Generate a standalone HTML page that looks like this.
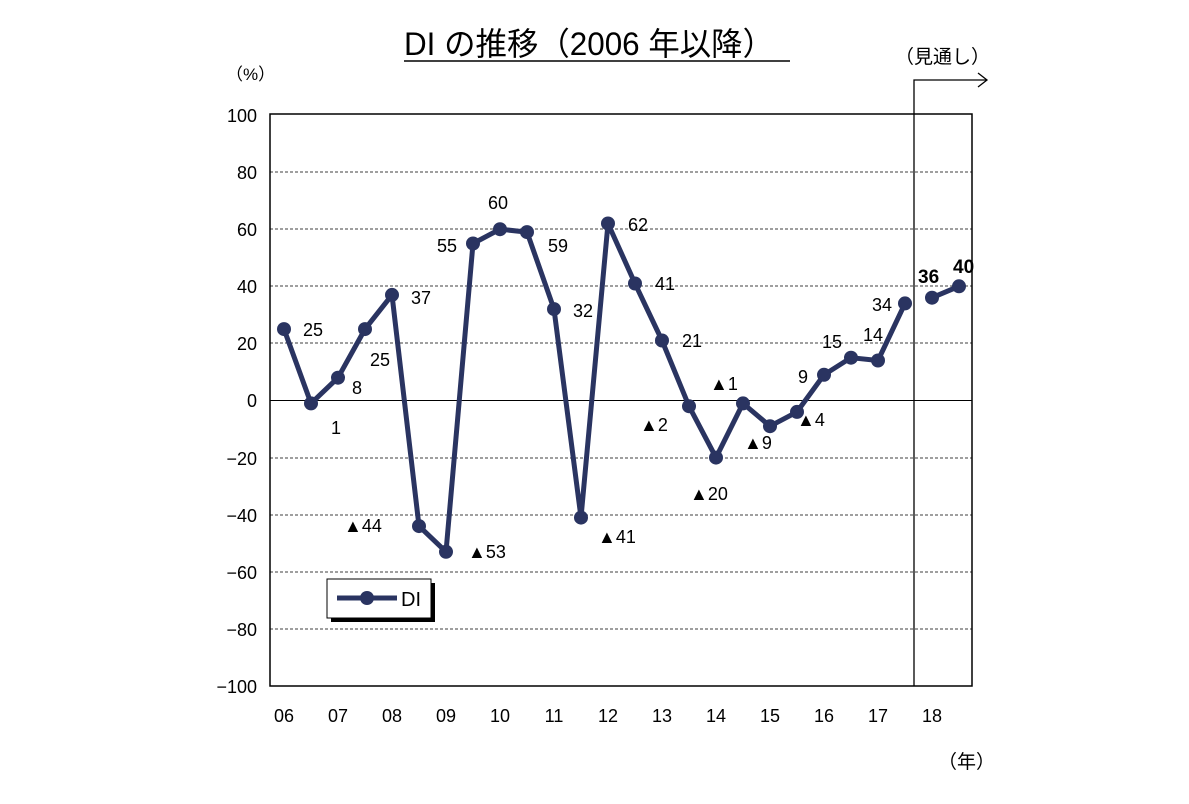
<!DOCTYPE html>
<html><head><meta charset="utf-8"><style>
body{margin:0;background:#fff}
svg text{font-family:"Liberation Sans","Noto Sans CJK JP",sans-serif;fill:#000}
</style></head><body>
<svg width="1189" height="799" viewBox="0 0 1189 799" xmlns="http://www.w3.org/2000/svg">
<text x="404" y="55" font-size="32" textLength="370" lengthAdjust="spacingAndGlyphs">DI の推移（2006 年以降）</text>
<line x1="404" y1="61" x2="790" y2="61" stroke="#000" stroke-width="1.5"/>
<text x="226" y="80" font-size="17">（%）</text>
<text x="895" y="63" font-size="19">（見通し）</text>
<text x="938" y="768" font-size="19">（年）</text>
<g stroke="#000" stroke-width="0.8" stroke-dasharray="3,2">
<line x1="270" y1="172" x2="972" y2="172"/><line x1="270" y1="229" x2="972" y2="229"/>
<line x1="270" y1="286" x2="972" y2="286"/><line x1="270" y1="343" x2="972" y2="343"/>
<line x1="270" y1="458" x2="972" y2="458"/><line x1="270" y1="515" x2="972" y2="515"/>
<line x1="270" y1="572" x2="972" y2="572"/><line x1="270" y1="629" x2="972" y2="629"/>
</g>
<line x1="270" y1="400.5" x2="972" y2="400.5" stroke="#000" stroke-width="1"/>
<rect x="270" y="114" width="702" height="572" fill="none" stroke="#000" stroke-width="1.5"/>
<polyline points="914,686 914,80 987,80" fill="none" stroke="#000" stroke-width="1.3"/>
<polyline points="978,73 987,80 978,87" fill="none" stroke="#000" stroke-width="1.3"/>
<g font-size="18" text-anchor="end">
<text x="257" y="122">100</text><text x="257" y="179">80</text><text x="257" y="236">60</text>
<text x="257" y="293">40</text><text x="257" y="350">20</text><text x="257" y="407">0</text>
<text x="257" y="465">−20</text><text x="257" y="522">−40</text><text x="257" y="579">−60</text>
<text x="257" y="636">−80</text><text x="257" y="693">−100</text>
</g>
<g font-size="18" text-anchor="middle">
<text x="284" y="722">06</text><text x="338" y="722">07</text><text x="392" y="722">08</text>
<text x="446" y="722">09</text><text x="500" y="722">10</text><text x="554" y="722">11</text>
<text x="608" y="722">12</text><text x="662" y="722">13</text><text x="716" y="722">14</text>
<text x="770" y="722">15</text><text x="824" y="722">16</text><text x="878" y="722">17</text>
<text x="932" y="722">18</text>
</g>
<g stroke="#2a3461" stroke-width="5" fill="none" stroke-linejoin="round">
<polyline points="284,329.1 311,403.4 338,377.7 365,329.1 392,294.9 419,526.1 446,551.8 473,243.5 500,229.2 527,232.1 554,309.1 581,517.6 608,223.5 635,283.5 662,340.5 689,406.2 716,457.6 743,403.4 770,426.2 797,411.9 824,374.8 851,357.7 878,360.5 905,303.4"/>
<line x1="932" y1="297.7" x2="959" y2="286.3"/>
</g>
<g fill="#2a3461">
<circle cx="284" cy="329.1" r="7"/><circle cx="311" cy="403.4" r="7"/><circle cx="338" cy="377.7" r="7"/><circle cx="365" cy="329.1" r="7"/><circle cx="392" cy="294.9" r="7"/><circle cx="419" cy="526.1" r="7"/><circle cx="446" cy="551.8" r="7"/><circle cx="473" cy="243.5" r="7"/><circle cx="500" cy="229.2" r="7"/><circle cx="527" cy="232.1" r="7"/><circle cx="554" cy="309.1" r="7"/><circle cx="581" cy="517.6" r="7"/><circle cx="608" cy="223.5" r="7"/><circle cx="635" cy="283.5" r="7"/><circle cx="662" cy="340.5" r="7"/><circle cx="689" cy="406.2" r="7"/><circle cx="716" cy="457.6" r="7"/><circle cx="743" cy="403.4" r="7"/><circle cx="770" cy="426.2" r="7"/><circle cx="797" cy="411.9" r="7"/><circle cx="824" cy="374.8" r="7"/><circle cx="851" cy="357.7" r="7"/><circle cx="878" cy="360.5" r="7"/><circle cx="905" cy="303.4" r="7"/><circle cx="932" cy="297.7" r="7"/><circle cx="959" cy="286.3" r="7"/>
</g>
<g font-size="18">
<text x="303" y="336">25</text><text x="331" y="434">1</text><text x="352" y="394">8</text>
<text x="370" y="366">25</text><text x="411" y="304">37</text>
<text x="344" y="532">▲44</text><text x="468" y="558">▲53</text>
<text x="437" y="252">55</text><text x="488" y="209">60</text><text x="548" y="252">59</text>
<text x="573" y="317">32</text><text x="598" y="543">▲41</text>
<text x="628" y="231">62</text><text x="655" y="290">41</text><text x="682" y="347">21</text>
<text x="640" y="431">▲2</text><text x="710" y="390">▲1</text><text x="690" y="500">▲20</text>
<text x="744" y="449">▲9</text><text x="797" y="426">▲4</text>
<text x="798" y="383">9</text><text x="822" y="348">15</text><text x="863" y="341">14</text>
<text x="872" y="311">34</text>
<text x="918" y="283" font-weight="bold" font-size="19">36</text>
<text x="953" y="273" font-weight="bold" font-size="19">40</text>
</g>
<rect x="331" y="583" width="104" height="39" fill="#000"/>
<rect x="327" y="579" width="104" height="39" fill="#fff" stroke="#000" stroke-width="1"/>
<line x1="337" y1="598" x2="397" y2="598" stroke="#2a3461" stroke-width="5"/>
<circle cx="367" cy="598" r="7" fill="#2a3461"/>
<text x="401" y="606" font-size="20">DI</text>
</svg>
</body></html>
